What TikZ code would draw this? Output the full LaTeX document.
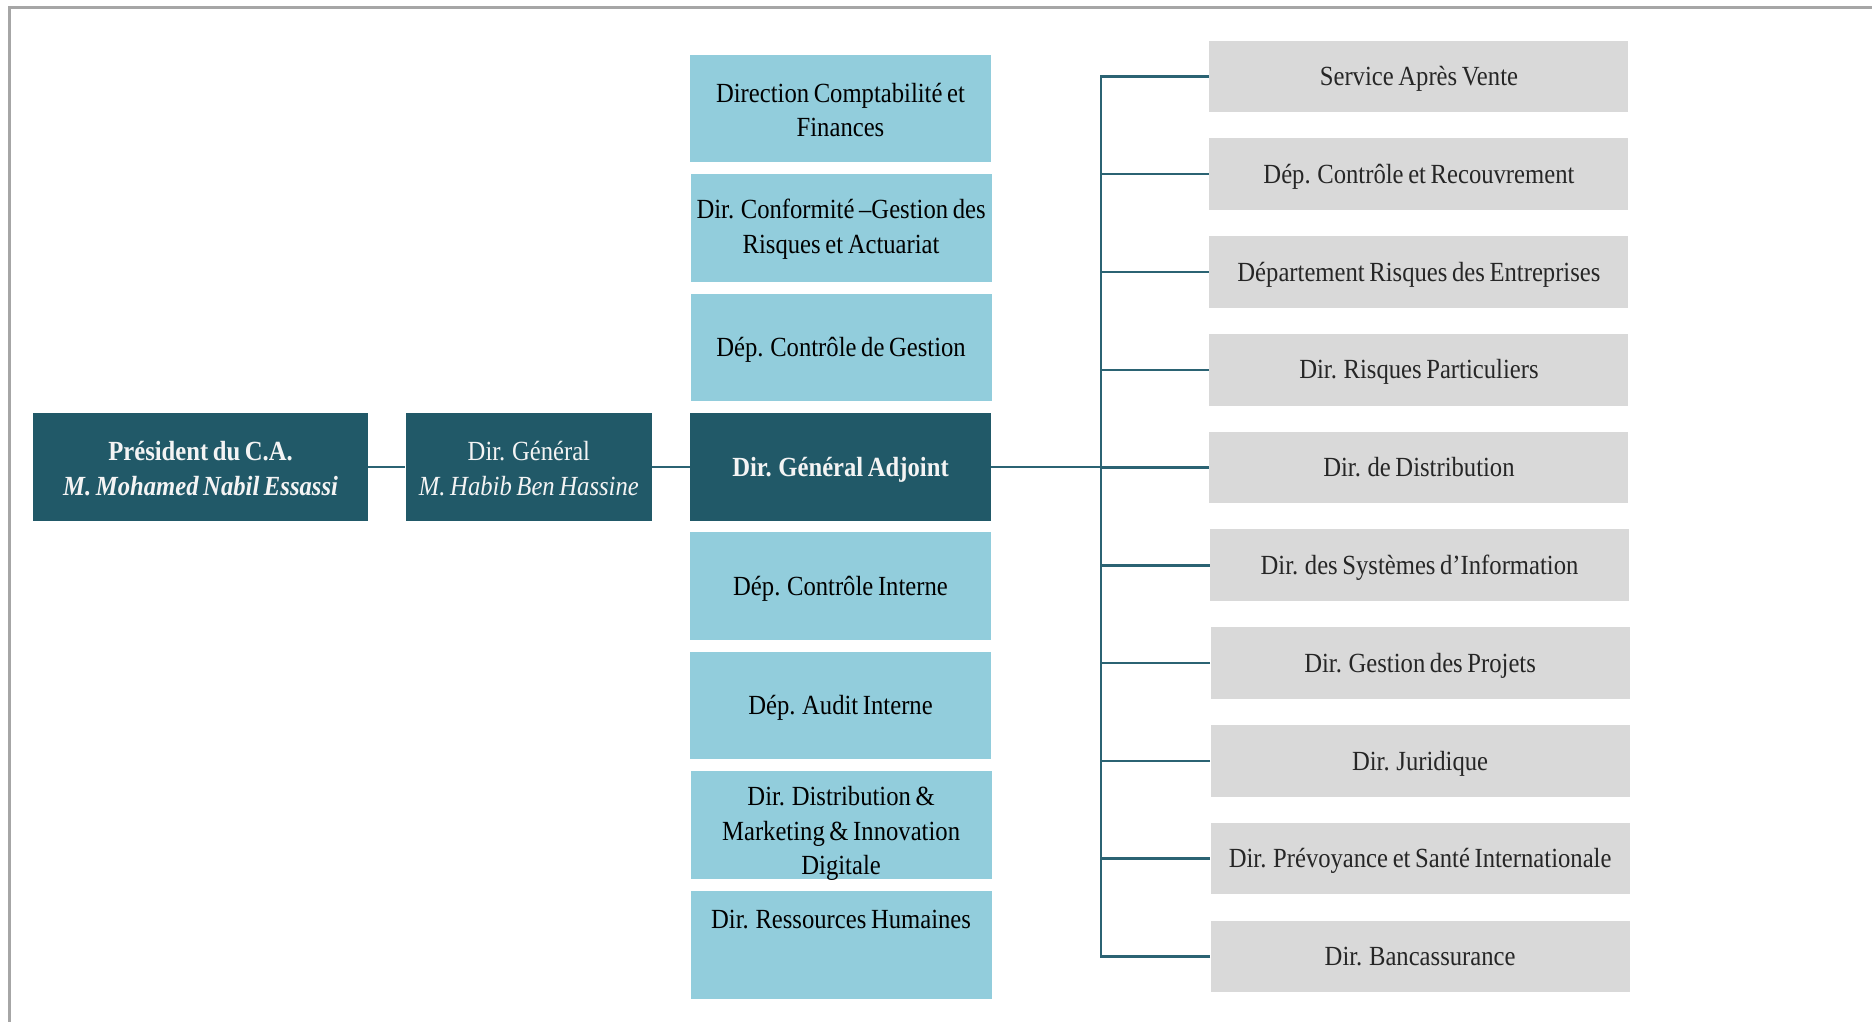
\documentclass[tikz,border=0pt]{standalone}
\usepackage{fontspec}
\setmainfont{Liberation Serif}[FakeStretch=0.89, WordSpace=0.75]
\definecolor{darkteal}{HTML}{215968}
\definecolor{lightblue}{HTML}{92CDDC}
\definecolor{lightgrey}{HTML}{D9D9D9}
\definecolor{conn}{HTML}{2B6373}
\definecolor{framegrey}{HTML}{A6A6A6}
\definecolor{txtdark}{HTML}{262626}
\definecolor{txtwhite}{HTML}{F4F4F4}
\begin{document}
\begin{tikzpicture}[x=0.5pt,y=-0.5pt,
  box/.style={rectangle, inner sep=0pt, align=center, font=\fontsize{11.6pt}{14.5pt}\selectfont},
  oneline/.style={text height=7.7pt, text depth=0pt},
  darkbox/.style={box, fill=darkteal, text=txtwhite, minimum height=45pt},
  bluebox/.style={box, fill=lightblue, text=black, minimum width=126pt, minimum height=45pt},
  greybox/.style={box, oneline, fill=lightgrey, text=txtdark, minimum width=175.5pt, minimum height=30pt},
  link/.style={draw=conn, line width=1pt}]
\useasboundingbox (0,0) rectangle (1568,856);
% frame
\draw[framegrey, line width=1.2pt] (8,860) -- (8,6) -- (1570,6);

% main chain
\node[darkbox, minimum width=140pt, label={[box, text=txtwhite, yshift=-0.8pt]center:\textbf{Président du C.A.}\\\textbf{\textit{M. Mohamed Nabil Essassi}}}] (pres) at (168,391) {};
\node[darkbox, minimum width=103pt, label={[box, text=txtwhite, yshift=-0.8pt]center:Dir. Général\\\textit{M. Habib Ben Hassine}}] (dg) at (443,391) {};
\node[darkbox, oneline, minimum width=126pt] (dga) at (704,391) {\textbf{Dir. Général Adjoint}};

% blue column
\node[bluebox, label={[box, text=black, yshift=-0.6pt]center:Direction Comptabilité et\\Finances}] (b1) at (704,91) {};
\node[bluebox, label={[box, text=black, yshift=-0.6pt]center:Dir. Conformité –Gestion des\\Risques et Actuariat}] (b2) at (704.5,191) {};
\node[bluebox, oneline] (b3) at (704.5,291) {Dép. Contrôle de Gestion};
\node[bluebox, oneline] (b4) at (704,491) {Dép. Contrôle Interne};
\node[bluebox, oneline] (b5) at (704,591) {Dép. Audit Interne};
\node[bluebox, label={[box, text=black, yshift=-3.6pt]center:Dir. Distribution \&\\Marketing \& Innovation\\Digitale}] (b6) at (704.5,691) {};
\node[bluebox, label={[box, text=black, yshift=10.8pt]center:Dir. Ressources Humaines}] (b7) at (704.5,791.5) {};

% grey column
\node[greybox] (g1) at (1188.5,64) {Service Après Vente};
\node[greybox] (g2) at (1188.5,145.9) {Dép. Contrôle et Recouvrement};
\node[greybox] (g3) at (1188.5,227.8) {Département Risques des Entreprises};
\node[greybox] (g4) at (1188.5,309.7) {Dir. Risques Particuliers};
\node[greybox] (g5) at (1188.5,391.6) {Dir. de Distribution};
\node[greybox] (g6) at (1189,473.5) {Dir. des Systèmes d’Information};
\node[greybox] (g7) at (1189.5,555.4) {Dir. Gestion des Projets};
\node[greybox] (g8) at (1189.5,637.3) {Dir. Juridique};
\node[greybox] (g9) at (1189.5,719.2) {Dir. Prévoyance et Santé Internationale};
\node[greybox] (g10) at (1189.5,801.1) {Dir. Bancassurance};

% connectors
\draw[link] (pres.east) -- (dg.west);
\draw[link] (dg.east) -- (dga.west);
\coordinate (bus) at (922,391);
\draw[link] (dga.east) -- (bus);
\foreach \n in {g1,g2,g3,g4,g5,g6,g7,g8,g9,g10}
  \draw[link] (\n.west) -| (bus);
\end{tikzpicture}
\end{document}
